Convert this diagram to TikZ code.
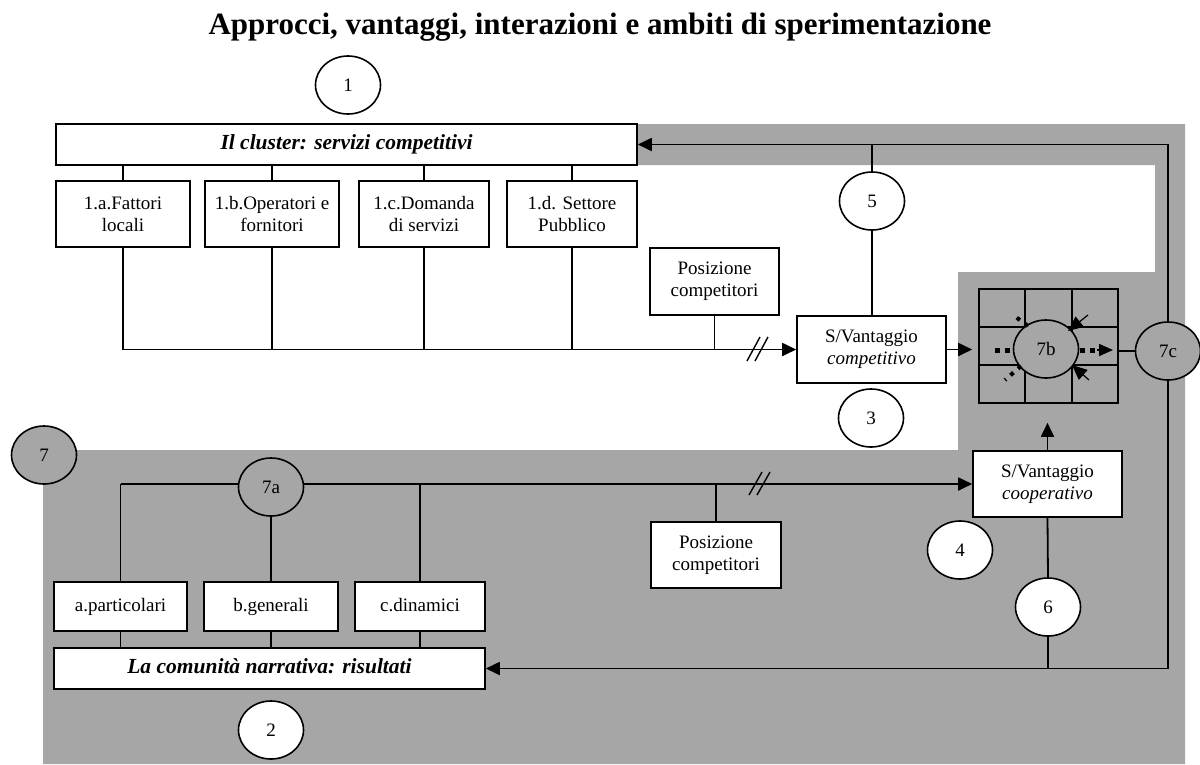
\documentclass[tikz,border=0pt]{standalone}
\usepackage{fontspec}
\setmainfont{Liberation Serif}
\usetikzlibrary{shapes.geometric,arrows.meta,calc}
\definecolor{panelgray}{RGB}{166,166,166}
\pgfdeclarelayer{back}
\pgfdeclarelayer{mid}
\pgfsetlayers{back,mid,main}
\newcommand\bodyfont{\fontsize{19}{22}\selectfont}
\newcommand\headfont{\fontsize{21.5}{24}\selectfont\bfseries\itshape}
\tikzset{
  box/.style={draw, fill=white, line width=1.6pt, align=center, inner sep=0pt, font=\bodyfont},
  oneline/.style={text height=13pt, text depth=4pt},
  headbox/.style={box, oneline, font=\headfont},
  circ/.style={draw, ellipse, fill=white, minimum width=65pt, minimum height=58pt, inner sep=0pt, line width=1.6pt, font=\bodyfont},
  gcirc/.style={circ, fill=panelgray},
  conn/.style={line width=1.8pt},
  arr/.style={conn, -{Triangle[length=14pt,width=13pt]}},
  slash/.style={line width=1.4pt},
  dots/.style={line width=5pt, dash pattern=on 5pt off 5pt},
}
\begin{document}
\begin{tikzpicture}[x=1pt,y=-1pt]
\useasboundingbox (0,0) rectangle (1200,764);

% shaded interaction field
\begin{pgfonlayer}{back}
\fill[panelgray] (43,764) -- (43,450) -- (958,450) -- (958,272) -- (1155,272)
  -- (1155,165) -- (636,165) -- (636,124) -- (1185,124) -- (1185,764) -- cycle;
\end{pgfonlayer}

% title
\node[font=\fontsize{31}{34}\selectfont\bfseries, anchor=base] (title) at (600,34)
  {Approcci, vantaggi, interazioni e ambiti di sperimentazione};

% competitive cluster
\node[circ] (c1) at (348,85) {1};
\node[headbox, minimum width=581pt, minimum height=41pt]
  (cluster) at (346.5,144.5) {Il cluster: servizi competitivi};
\node[box, minimum width=134pt, minimum height=66pt] (fa) at (123,214) {1.a.Fattori\\locali};
\node[box, minimum width=134pt, minimum height=66pt] (fb) at (272,214) {1.b.Operatori e\\fornitori};
\node[box, minimum width=130pt, minimum height=66pt] (fc) at (424,214) {1.c.Domanda\\di servizi};
\node[box, minimum width=130pt, minimum height=66pt] (fd) at (572,214) {1.d. Settore\\Pubblico};
\node[box, minimum width=129pt, minimum height=67pt] (pt) at (714.5,281.5) {Posizione\\competitori};
\node[box, minimum width=149pt, minimum height=67pt] (comp) at (871.5,349.5)
  {S/Vantaggio\\\textit{competitivo}};
\node[circ] (c5) at (872,201) {5};
\node[circ] (c3) at (871,418) {3};

% interaction grid
\node[draw, line width=1.6pt, minimum width=139pt, minimum height=114pt, inner sep=0pt]
  (grid) at (1048.5,346) {};
\node[gcirc] (c7c) at (1168,351) {7c};

% cooperative community
\node[box, minimum width=149pt, minimum height=66pt] (coop) at (1047.5,484)
  {S/Vantaggio\\\textit{cooperativo}};
\node[circ] (c4) at (960,550) {4};
\node[circ] (c6) at (1048,607) {6};
\node[gcirc] (c7) at (44,455) {7};
\node[gcirc] (c7a) at (271,487) {7a};
\node[box, minimum width=130pt, minimum height=66pt] (pb) at (716,555) {Posizione\\competitori};
\node[box, oneline, minimum width=133pt, minimum height=49pt] (ra) at (120.5,606.5) {a.particolari};
\node[box, oneline, minimum width=134pt, minimum height=49pt] (rb) at (271,606.5) {b.generali};
\node[box, oneline, minimum width=130pt, minimum height=49pt] (rc) at (420,606.5) {c.dinamici};
\node[headbox, minimum width=431pt, minimum height=41pt]
  (comm) at (269.5,668.5) {La comunità narrativa: risultati};
\node[circ] (c2) at (271,730) {2};

\begin{pgfonlayer}{mid}
% grid lines
\foreach \f in {1,2} {
  \draw[line width=1.6pt] ($(grid.north west)!\f/3!(grid.north east)$) -- ($(grid.south west)!\f/3!(grid.south east)$);
  \draw[line width=1.6pt] ($(grid.north west)!\f/3!(grid.south west)$) -- ($(grid.north east)!\f/3!(grid.south east)$);
}
% cluster branches
\foreach \b in {fa,fb,fc,fd} {
  \draw[conn] (\b.north |- cluster.south) -- (\b.north);
  \draw[conn] (\b.south) -- (\b.south |- comp.west);
}
\draw[arr] (fa.south |- comp.west) -- (comp.west);
\draw[conn] (pt.south) -- (pt.south |- comp.west);
\draw[conn] (c5.north) -- (c5.north |- cluster.east);
\draw[conn] (c5.south) -- (c5.south |- comp.north);
\draw[arr, shorten >=6pt] (comp.east) -- (comp.east -| grid.west);
\draw[conn] (c7c.west -| grid.east) -- (c7c.west);
\draw[arr] (c7c.north) |- (cluster.east);
\draw[arr] (c7c.south) |- (comm.east);
% community branches
\draw[arr] (ra.north |- coop.west) -- (coop.west);
\draw[conn] (ra.north |- coop.west) -- (ra.north);
\draw[conn] (c7a.south) -- (rb.north);
\draw[conn] (rc.north |- coop.west) -- (rc.north);
\draw[conn] (pb.north |- coop.west) -- (pb.north);
\foreach \b in {ra,rb,rc} \draw[conn] (\b.south) -- (\b.south |- comm.north);
\draw[arr, shorten >=19pt] (coop.north) -- (coop.north |- grid.south);
\draw[conn] (coop.south) -- (c6.north);
\draw[conn] (c6.south) -- (c6.south |- comm.east);
\end{pgfonlayer}

% interruption marks
\draw[slash] (747,361) -- (760,337);
\draw[slash] (755,361) -- (768,337);
\draw[slash] (749,495) -- (762,472);
\draw[slash] (757,495) -- (770,472);

% interaction hub
\node[gcirc] (c7b) at (1046,349) {7b};
\draw[dots] (994.5,350) -- (1009.5,350);
\draw[dots] (1079.5,350) -- (1094.5,350);
\draw[line width=1.6pt, -{Triangle[length=14pt,width=12pt]}] (1097,350) -- (1113,350);
\draw[line width=4pt, dash pattern=on 4pt off 6pt] (1028,326) -- (1013,315);
\draw[line width=4pt, dash pattern=on 4pt off 6pt] (1021,366) -- (1005,380);
\draw[line width=1.2pt, -{Triangle[length=15pt,width=13pt]}] (1088,315) -- (1068,331);
\draw[line width=1.2pt, -{Triangle[length=15pt,width=13pt]}] (1089,380) -- (1072,365);
\end{tikzpicture}
\end{document}
